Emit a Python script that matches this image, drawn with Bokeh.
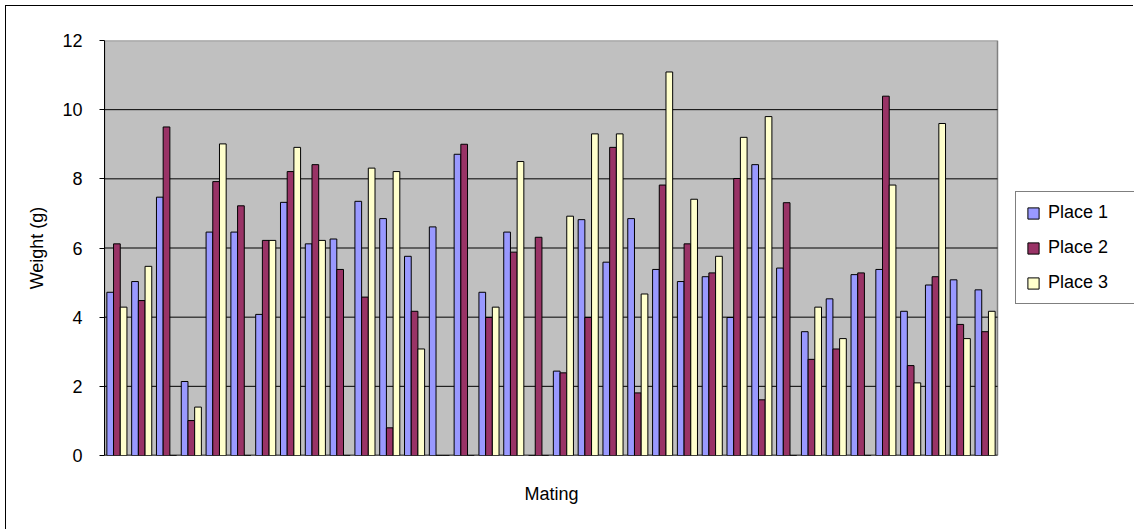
from bokeh.plotting import figure
from bokeh.models import (ColumnDataSource, Range1d, FixedTicker,
                          Legend, LegendItem, Title)
from bokeh.transform import dodge
from bokeh.embed import file_html
from bokeh.resources import INLINE

# 36 matings, weight (g) at three places
matings = [str(i) for i in range(1, 37)]
place1 = [4.72, 5.03, 7.47, 2.14, 6.46, 6.46, 4.08, 7.32, 6.12, 6.26,
          7.35, 6.85, 5.76, 6.61, 8.71, 4.72, 6.46, 0.0, 2.44, 6.82,
          5.59, 6.85, 5.38, 5.03, 5.17, 3.99, 8.41, 5.42, 3.58, 4.53,
          5.23, 5.38, 4.17, 4.93, 5.08, 4.79]
place2 = [6.12, 4.48, 9.50, 1.01, 7.92, 7.22, 6.22, 8.21, 8.41, 5.38,
          4.58, 0.80, 4.17, 0.0, 9.00, 3.99, 5.88, 6.31, 2.39, 3.99,
          8.91, 1.81, 7.82, 6.12, 5.28, 8.01, 1.61, 7.31, 2.78, 3.08,
          5.28, 10.39, 2.60, 5.17, 3.79, 3.58]
place3 = [4.29, 5.47, 0.0, 1.40, 9.01, 0.0, 6.22, 8.91, 6.22, 0.0,
          8.31, 8.21, 3.08, 0.0, 0.0, 4.29, 8.50, 0.0, 6.92, 9.30,
          9.30, 4.67, 11.09, 7.41, 5.76, 9.20, 9.80, 0.0, 4.29, 3.38,
          0.0, 7.82, 2.10, 9.60, 3.38, 4.17]
series_names = ["Place 1", "Place 2", "Place 3"]
series_colors = ["#9999FF", "#993366", "#FFFFCC"]
y_ticks = [0, 2, 4, 6, 8, 10, 12]

FONT = "Liberation Sans"

n = len(matings)
# category slot centres on a numeric axis (one unit per mating)
slot = [i + 0.5 for i in range(n)]
source = ColumnDataSource(dict(mating=matings, slot=slot,
                               p1=place1, p2=place2, p3=place3))

# the frame runs on past the last category so the legend has room to the right
x_end = n * (1134 - 104) / (997 - 104)

p = figure(width=1128, height=524, output_backend="svg", toolbar_location=None,
           x_range=Range1d(0, x_end), y_range=Range1d(0, 12),
           x_axis_location=None,
           min_border_left=98, min_border_right=0,
           min_border_top=34, min_border_bottom=75)

p.background_fill_color = "white"
p.border_fill_color = "white"
p.outline_line_color = None
# chart border along the top and left, inset from the page edge
p.styles = {"margin-left": "5px", "margin-top": "5px",
            "border-left": "1.5px solid black", "border-top": "1.5px solid black"}

# plot area: grey panel, horizontal gridlines, baseline
p.quad(left=[0], right=[n], bottom=[0], top=[12], fill_color="#C0C0C0",
       line_color="#808080", line_width=1.5)
p.segment(x0=[0] * 5, x1=[n] * 5, y0=y_ticks[1:-1], y1=y_ticks[1:-1],
          line_color="black", line_width=1)
p.segment(x0=[0], x1=[n], y0=[0], y1=[0], line_color="black", line_width=1.5)
p.grid.visible = False

# y axis
p.yaxis.ticker = FixedTicker(ticks=y_ticks)
p.yaxis.axis_label = "Weight (g)"
p.yaxis.axis_label_text_font = FONT
p.yaxis.axis_label_text_font_size = "18px"
p.yaxis.axis_label_text_font_style = "normal"
p.yaxis.axis_label_text_color = "black"
p.yaxis.axis_label_standoff = 12
p.yaxis.major_label_text_font = FONT
p.yaxis.major_label_text_font_size = "18px"
p.yaxis.major_label_text_color = "black"
p.yaxis.major_label_standoff = 17
p.yaxis.major_tick_out = 5
p.yaxis.major_tick_in = 0
p.yaxis.minor_tick_out = 0
p.yaxis.minor_tick_in = 0
p.yaxis.axis_line_color = "black"
p.yaxis.major_tick_line_color = "black"

# x-axis title, centred under the bars
p.add_layout(Title(text="Mating", align="left", text_font=FONT,
                   text_font_size="18px", text_font_style="normal",
                   text_color="black", standoff=52, offset=420), "below")

bar_w = 0.27
offsets = [-bar_w, 0.0, bar_w]
cols = ["p1", "p2", "p3"]
renderers = []
for col, off, color in zip(cols, offsets, series_colors):
    r = p.vbar(x=dodge("slot", off), top=col, width=bar_w,
               bottom=0, source=source, fill_color=color,
               line_color="black", line_width=1)
    renderers.append(r)

# legend box runs on to the right edge of the chart
legend = Legend(
    items=[LegendItem(label=s, renderers=[r]) for s, r in zip(series_names, renderers)],
    location=(911, 151),
    orientation="vertical",
    border_line_color="black", border_line_width=1,
    background_fill_color="white", background_fill_alpha=1,
    label_text_font=FONT, label_text_font_size="18px", label_text_color="black",
    glyph_width=14, glyph_height=14, label_height=21, label_width=95,
    label_standoff=8, spacing=14, padding=10, margin=0,
)
p.add_layout(legend, "center")

open("out.html", "w").write(file_html(p, INLINE))
